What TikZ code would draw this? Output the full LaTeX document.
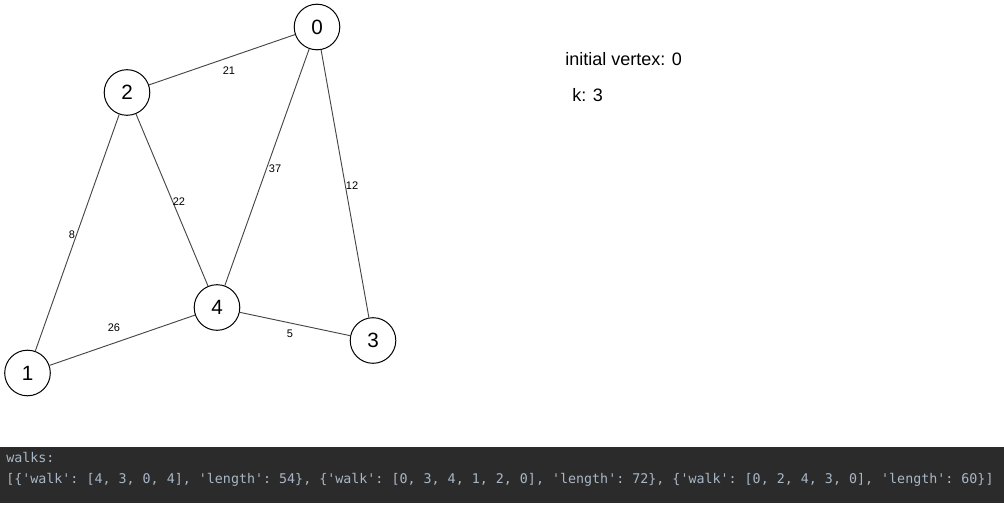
\documentclass[tikz,border=0pt]{standalone}
\usepackage{fontspec}
\setmainfont{Liberation Sans}
\newfontfamily\termfont{DejaVu Sans Mono}
\definecolor{termbg}{RGB}{43,43,43}
\definecolor{termfg}{RGB}{169,183,198}
\definecolor{edgegray}{RGB}{70,70,70}
\begin{document}
\begin{tikzpicture}[x=0.75pt,y=-0.75pt,
  vertex/.style={circle,draw=black,line width=0.75pt,fill=white,minimum size=34.2pt,inner sep=0pt,font=\fontsize{15.5}{18}\selectfont},
  edge/.style={draw=edgegray,line width=0.7pt},
  wlabel/.style={inner sep=0pt,font=\fontsize{8.25}{10}\selectfont},
  info/.style={inner sep=0pt,anchor=west,font=\fontsize{13.5}{16}\selectfont},
  term/.style={inner sep=0pt,anchor=west,text=termfg,font=\termfont\frenchspacing\fontsize{10}{12}\selectfont}]
\useasboundingbox (0,0) rectangle (1004,528);
\fill[termbg] (0,447) rectangle (1004,503);
\node[vertex] (v0) at (317,27) {0};
\node[vertex] (v2) at (127,92.5) {2};
\node[vertex] (v4) at (217,307.5) {4};
\node[vertex] (v3) at (373,340.5) {3};
\node[vertex] (v1) at (27.5,373) {1};
\draw[edge] (v2) -- (v0);
\draw[edge] (v4) -- (v0);
\draw[edge] (v0) -- (v3);
\draw[edge] (v2) -- (v4);
\draw[edge] (v2) -- (v1);
\draw[edge] (v1) -- (v4);
\draw[edge] (v4) -- (v3);
\node[wlabel] (l21) at (229,71) {21};
\node[wlabel] (l37) at (275,168.5) {37};
\node[wlabel] (l12) at (352,186) {12};
\node[wlabel] (l22) at (179,202) {22};
\node[wlabel] (l8) at (72,235) {8};
\node[wlabel] (l26) at (114,328) {26};
\node[wlabel] (l5) at (290,334) {5};
\node[info] (iv) at (565,59) {initial vertex: 0};
\node[info] (kk) at (572,95) {k: 3};
\node[term] (t1) at (6,457) {walks:};
\node[term] (t2) at (6,479.5) {[\{'walk': [4, 3, 0, 4], 'length': 54\}, \{'walk': [0, 3, 4, 1, 2, 0], 'length': 72\}, \{'walk': [0, 2, 4, 3, 0], 'length': 60\}]};
\end{tikzpicture}
\end{document}
